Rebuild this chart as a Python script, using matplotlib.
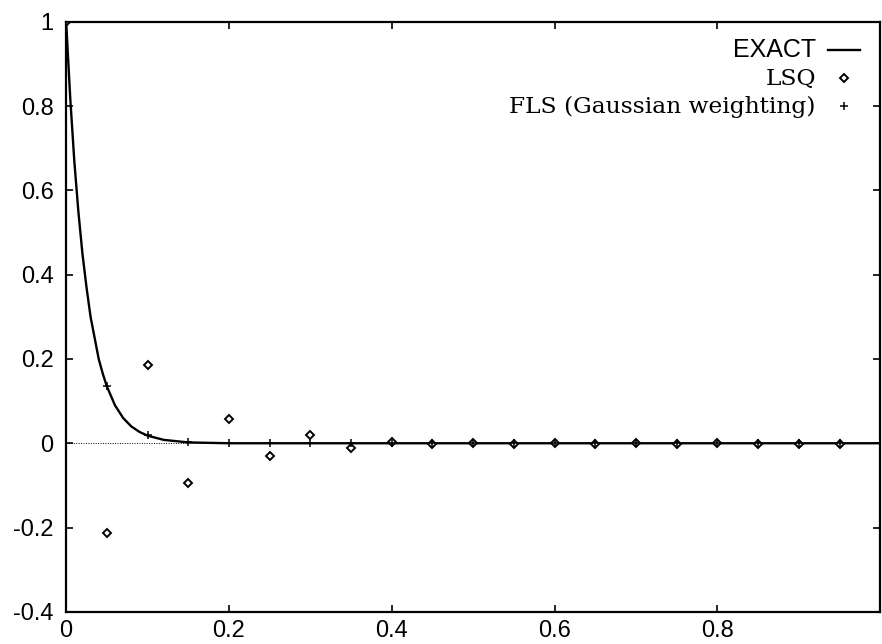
import matplotlib
matplotlib.use("Agg")
import matplotlib.pyplot as plt

plt.rcParams['axes.unicode_minus'] = False

# exact solution
exact_x = [0, 0.005, 0.01, 0.015, 0.02, 0.025, 0.03, 0.035, 0.04, 0.045, 0.05, 0.06,
           0.07, 0.08, 0.09, 0.1, 0.12, 0.15, 0.2, 0.3, 0.5, 1.0]
exact_y = [1.0, 0.82, 0.67, 0.55, 0.45, 0.37, 0.30, 0.25, 0.20, 0.165, 0.135, 0.09,
           0.06, 0.04, 0.027, 0.018, 0.008, 0.002, 0.0, 0.0, 0.0, 0.0]

# sample points
pts_x = [0, 0.05, 0.1, 0.15, 0.2, 0.25, 0.3, 0.35, 0.4, 0.45, 0.5, 0.55,
         0.6, 0.65, 0.7, 0.75, 0.8, 0.85, 0.9, 0.95]
lsq_y = [1.0, -0.213, 0.185, -0.094, 0.057, -0.031, 0.019, -0.011, 0.003, -0.002, 0.0, -0.001,
         0.0, -0.001, 0.0, -0.001, 0.0, -0.001, -0.001, -0.001]
fls_y = [1.0, 0.137, 0.02, 0.003, 0.0, 0.0, 0.0, 0.0, 0.0, 0.0, 0.0, 0.0,
         0.0, 0.0, 0.0, 0.0, 0.0, 0.0, 0.0, 0.0]

xticks = [0, 0.2, 0.4, 0.6, 0.8]
xlabels = ["0", "0.2", "0.4", "0.6", "0.8"]
yticks = [-0.4, -0.2, 0, 0.2, 0.4, 0.6, 0.8, 1.0]
ylabels = ["-0.4", "-0.2", "0", "0.2", "0.4", "0.6", "0.8", "1"]

fig = plt.figure(figsize=(8.82, 6.44), dpi=100)
ax = fig.add_axes([0.075, 0.05, 0.923, 0.916])

ax.axhline(0, color="black", lw=0.7, ls=(0, (1, 1.5)), zorder=1)
ax.plot(exact_x, exact_y, color="black", lw=1.7, label="EXACT", zorder=2)
ax.plot(pts_x, lsq_y, ls="none", marker="D", ms=4.5, mfc="white", mec="black",
        mew=1.4, label="LSQ", zorder=3)
ax.plot(pts_x, fls_y, ls="none", marker="+", ms=6, mec="black", mew=1.1,
        label="FLS (Gaussian weighting)", zorder=4)

ax.set_xlim(0, 1.0)
ax.set_ylim(-0.4, 1.0)
ax.set_xticks(xticks)
ax.set_xticklabels(xlabels)
ax.set_yticks(yticks)
ax.set_yticklabels(ylabels)
ax.tick_params(direction="in", top=True, right=True, length=5, width=1.2,
               labelsize=17)
ax.tick_params(axis="y", pad=9)
ax.tick_params(axis="x", pad=6)
for lab in ax.get_xticklabels() + ax.get_yticklabels():
    lab.set_family("Liberation Sans")
for s in ax.spines.values():
    s.set_linewidth(1.6)

leg = ax.legend(loc="upper right", frameon=False, markerfirst=False, fontsize=15,
                handlelength=1.5, handletextpad=0.6, labelspacing=0.3,
                borderaxespad=0.0, bbox_to_anchor=(0.985, 0.987))
txts = leg.get_texts()
txts[0].set_family("Liberation Sans")
txts[0].set_fontsize(18)
for t in txts[1:]:
    t.set_family("DejaVu Serif")
    t.set_fontsize(16.8)

fig.savefig("out.png", dpi=100)
